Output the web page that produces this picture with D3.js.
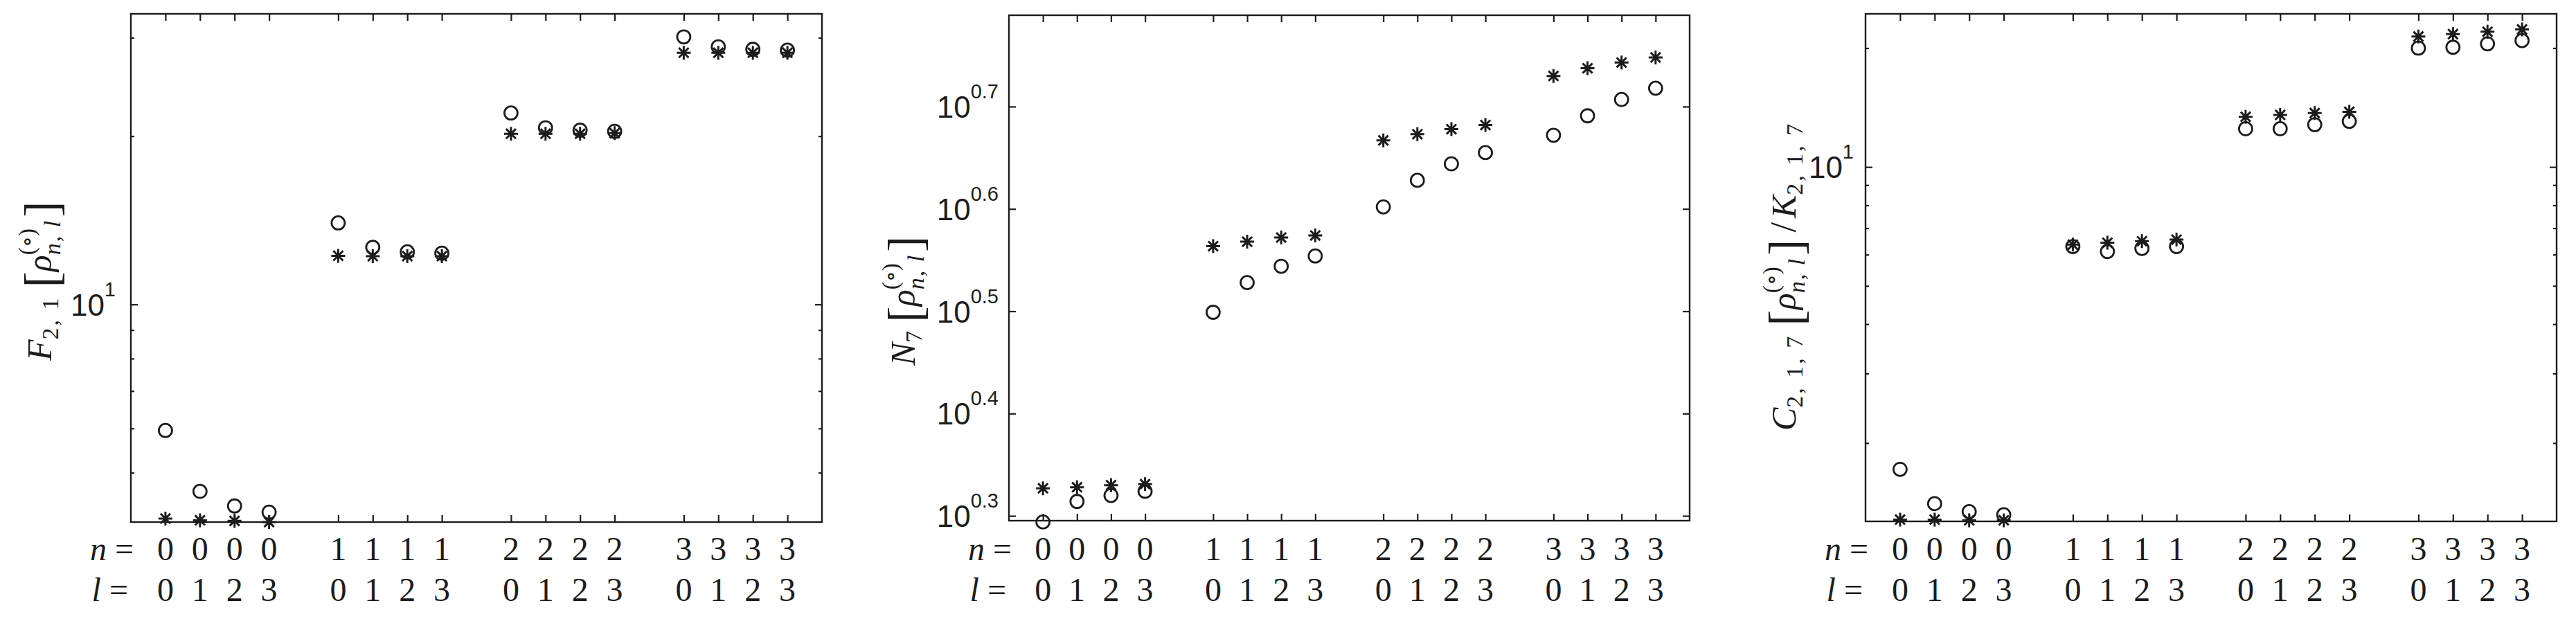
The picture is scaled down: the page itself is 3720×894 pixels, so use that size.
<!DOCTYPE html>
<html lang="en">
<meta charset="utf-8">
<head>
    <script src="https://d3js.org/d3.v7.min.js"></script>
</head>
<body style="margin:0;background:#fff">
<div id="chart"></div>

<style>
	svg text { fill: #1c1c1c; }
	.tick text { display: none; }
	.tick line { stroke: #1c1c1c; stroke-width: 2.2; }
	.domain { display: none; }
</style>

<script>
// positions of the 16 (n,l) states along x, with a gap between n groups
var xPos    = [1, 2, 3, 4, 6, 7, 8, 9, 11, 12, 13, 14, 16, 17, 18, 19];
var nLabels = [0, 0, 0, 0, 1, 1, 1, 1, 2, 2, 2, 2, 3, 3, 3, 3];
var lLabels = [0, 1, 2, 3, 0, 1, 2, 3, 0, 1, 2, 3, 0, 1, 2, 3];

// panel 1 : F_{2,1}
var f21Circle = [5.95, 4.63, 4.36, 4.25, 13.99, 12.65, 12.42, 12.35, 22.0, 20.7, 20.5, 20.4, 30.1, 28.9, 28.6, 28.5];
var f21Star   = [4.14, 4.11, 4.10, 4.08, 12.22, 12.2, 12.2, 12.2, 20.2, 20.2, 20.2, 20.25, 28.2, 28.2, 28.2, 28.2];
var f21Major  = [10];
var f21Minor  = [5, 6, 7, 8, 9, 20, 30];

// panel 2 : N_7
var n7Circle = [1.968, 2.061, 2.089, 2.109, 3.155, 3.373, 3.499, 3.581, 3.999, 4.246, 4.406, 4.519, 4.699, 4.909, 5.093, 5.224];
var n7Star   = [2.123, 2.128, 2.138, 2.143, 3.661, 3.698, 3.733, 3.750, 4.645, 4.710, 4.764, 4.808, 5.370, 5.464, 5.534, 5.598];
var n7TickExp = [0.3, 0.4, 0.5, 0.6, 0.7];

// panel 3 : C_{2,1,7} / K_{2,1,7}
var c217Circle = [1.716, 1.405, 1.341, 1.317, 6.29, 6.11, 6.22, 6.29, 12.5, 12.5, 12.8, 13.05, 20.0, 20.1, 20.5, 20.9];
var c217Star   = [1.28, 1.28, 1.275, 1.275, 6.36, 6.43, 6.49, 6.55, 13.4, 13.55, 13.7, 13.8, 21.4, 21.7, 22.0, 22.3];
var c217Major  = [10];
var c217Minor  = [2, 3, 4, 5, 6, 7, 8, 9, 20];

var ink = "#1c1c1c";
var serif = "Liberation Serif, DejaVu Serif, serif";
var sans = "Liberation Sans, Arial, sans-serif";

var svg = d3.select("#chart").append("svg")
	.attr("width", 3720)
	.attr("height", 894);

var rhoPart = [
	{gap: 12, segs: [["[", 0]], size: 70, dy: 10},
	{segs: [["ρ", 1]], size: 50},
	{stack: [{segs: [["(∘)", 0]], size: 33, dy: -24}, {segs: [["n", 1], [", ", 0], ["l", 1]], size: 34, dy: 13, ls: 2}]},
	{gap: 3, segs: [["]", 0]], size: 70, dy: 10}
];

var panels = [
	{left: 189, right: 1187, top: 20, bottom: 754, domain: [4.08, 33.1],
	 circ: f21Circle, star: f21Star, major: f21Major, minor: f21Minor,
	 tickText: function(d) { return ["10", "1"]; }, labelGap: 22,
	 ylab: {x: 74, y: 521, pieces: [
		{segs: [["F", 1]], size: 50},
		{segs: [["2, 1", 0]], size: 34, dy: 10, ls: 3}
	 ].concat(rhoPart)}},
	{left: 1457, right: 2440, top: 22, bottom: 752, domain: [Math.pow(10, 0.2953), Math.pow(10, 0.7893)],
	 circ: n7Circle, star: n7Star, major: n7TickExp.map(function(e) { return Math.pow(10, e); }), minor: [],
	 tickText: function(d, i) { return ["10", String(n7TickExp[i])]; }, labelGap: 15,
	 ylab: {x: 1321, y: 528, pieces: [
		{segs: [["N", 1]], size: 50},
		{segs: [["7", 0]], size: 34, dy: 10}
	 ].concat(rhoPart)}},
	{left: 2694, right: 3692, top: 20, bottom: 753, domain: [1.267, 24.42],
	 circ: c217Circle, star: c217Star, major: c217Major, minor: c217Minor,
	 tickText: function(d) { return ["10", "1"]; }, labelGap: 17,
	 ylab: {x: 2593, y: 622, pieces: [
		{segs: [["C", 1]], size: 50},
		{segs: [["2, 1, 7", 0]], size: 34, dy: 10, ls: 3}
	 ].concat(rhoPart).concat([
		{gap: 10, segs: [["/", 0]], size: 52},
		{gap: 6, segs: [["K", 1]], size: 50},
		{segs: [["2, 1, 7", 0]], size: 34, dy: 10, ls: 3}
	 ])}}
];

// 8-armed star like the matlab '*' marker
function starPath(r) {
	var d = r * Math.SQRT1_2;
	return "M" + (-r) + ",0H" + r + "M0," + (-r) + "V" + r +
		"M" + (-d) + "," + (-d) + "L" + d + "," + d +
		"M" + (-d) + "," + d + "L" + d + "," + (-d);
}

function addSegs(sel, segs) {
	segs.forEach(function(s) {
		sel.append("tspan")
			.attr("font-style", s[1] ? "italic" : "normal")
			.text(s[0]);
	});
}

// rotated latex-like label, starting at (x,y) and reading upwards
function mathLabel(p) {
	var g = svg.append("g").attr("transform", "translate(" + p.x + "," + p.y + ") rotate(-90)");
	var u = 0;
	p.pieces.forEach(function(pc) {
		u += pc.gap || 0;
		var parts = pc.stack || [pc];
		var w = 0;
		parts.forEach(function(s) {
			var t = g.append("text")
				.attr("x", u)
				.attr("y", s.dy || 0)
				.attr("font-family", serif)
				.attr("font-size", s.size)
				.attr("letter-spacing", s.ls || 0);
			addSegs(t, s.segs);
			w = Math.max(w, t.node().getComputedTextLength());
		});
		u += w;
	});
}

panels.forEach(function(p) {
	var x = d3.scaleLinear().domain([0, 20]).range([p.left, p.right]);
	var y = d3.scaleLog().domain(p.domain).range([p.bottom, p.top]);
	var w = p.right - p.left;

	// ticks, all pointing inwards
	svg.append("g").attr("transform", "translate(" + p.left + ",0)")
		.call(d3.axisLeft(y).tickValues(p.major).tickSize(-10).tickFormat(""));
	svg.append("g").attr("transform", "translate(" + p.right + ",0)")
		.call(d3.axisRight(y).tickValues(p.major).tickSize(-10).tickFormat(""));
	if (p.minor.length) {
		svg.append("g").attr("transform", "translate(" + p.left + ",0)")
			.call(d3.axisLeft(y).tickValues(p.minor).tickSize(-5).tickFormat(""));
		svg.append("g").attr("transform", "translate(" + p.right + ",0)")
			.call(d3.axisRight(y).tickValues(p.minor).tickSize(-5).tickFormat(""));
	}
	svg.append("g").attr("transform", "translate(0," + p.bottom + ")")
		.call(d3.axisBottom(x).tickValues(xPos).tickSize(-10).tickFormat(""));
	svg.append("g").attr("transform", "translate(0," + p.top + ")")
		.call(d3.axisTop(x).tickValues(xPos).tickSize(-10).tickFormat(""));

	// box
	svg.append("rect")
		.attr("x", p.left).attr("y", p.top)
		.attr("width", w).attr("height", p.bottom - p.top)
		.attr("fill", "none").attr("stroke", ink).attr("stroke-width", 2.4);

	// y tick labels 10^k
	p.major.forEach(function(d, i) {
		var tt = p.tickText(d, i);
		var t = svg.append("text")
			.attr("x", p.left - p.labelGap)
			.attr("y", y(d) + 16)
			.attr("text-anchor", "end")
			.attr("font-family", sans)
			.attr("font-size", 44);
		t.append("tspan").text(tt[0]);
		t.append("tspan").attr("dy", -28).attr("font-size", 29).text(tt[1]);
	});

	// markers
	svg.append("g").selectAll("circle")
		.data(p.circ)
		.enter()
		.append("circle")
		.attr("cx", function(d, i) { return x(xPos[i]); })
		.attr("cy", function(d) { return y(d); })
		.attr("r", 9.5)
		.attr("fill", "none")
		.attr("stroke", ink)
		.attr("stroke-width", 2.8);
	svg.append("g").selectAll("path")
		.data(p.star)
		.enter()
		.append("path")
		.attr("transform", function(d, i) { return "translate(" + x(xPos[i]) + "," + y(d) + ")"; })
		.attr("d", starPath(10))
		.attr("stroke", ink)
		.attr("stroke-width", 3);

	// n = / l = rows
	var nrow = svg.append("text")
		.attr("x", p.left + 4).attr("y", 809)
		.attr("text-anchor", "end")
		.attr("font-family", serif).attr("font-size", 48);
	nrow.append("tspan").attr("font-style", "italic").text("n");
	nrow.append("tspan").text(" =");
	var lrow = svg.append("text")
		.attr("x", p.left - 4).attr("y", 868)
		.attr("text-anchor", "end")
		.attr("font-family", serif).attr("font-size", 48);
	lrow.append("tspan").attr("font-style", "italic").text("l");
	lrow.append("tspan").text(" =");

	svg.append("g").selectAll("text")
		.data(nLabels)
		.enter()
		.append("text")
		.attr("x", function(d, i) { return x(xPos[i]); })
		.attr("y", 809)
		.attr("text-anchor", "middle")
		.attr("font-family", serif).attr("font-size", 48)
		.text(function(d) { return d; });
	svg.append("g").selectAll("text")
		.data(lLabels)
		.enter()
		.append("text")
		.attr("x", function(d, i) { return x(xPos[i]); })
		.attr("y", 868)
		.attr("text-anchor", "middle")
		.attr("font-family", serif).attr("font-size", 48)
		.text(function(d) { return d; });

	mathLabel(p.ylab);
});
</script>
</html>
